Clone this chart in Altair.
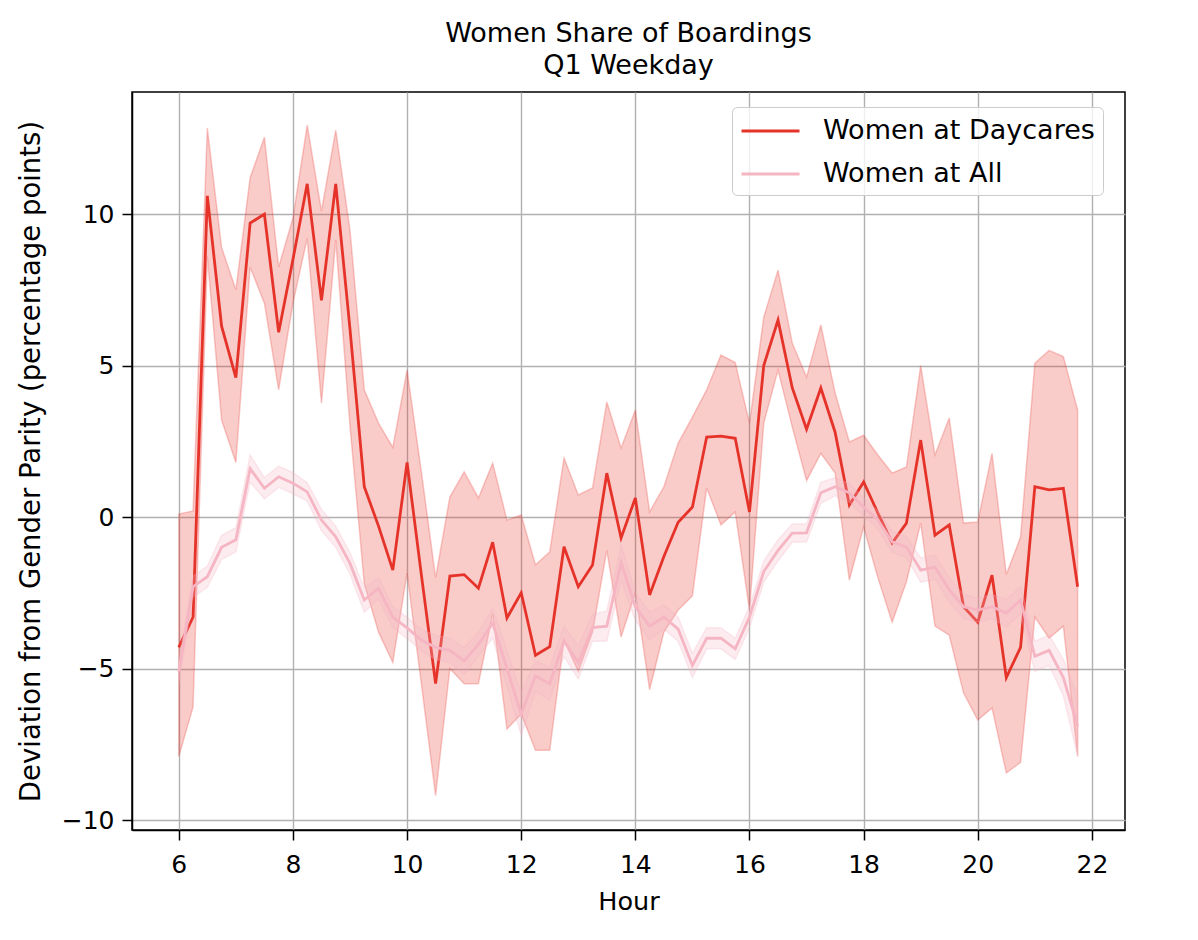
import altair as alt
import pandas as pd

hours = [6.0, 6.25, 6.5, 6.75, 7.0, 7.25, 7.5, 7.75, 8.0, 8.25, 8.5, 8.75,
         9.0, 9.25, 9.5, 9.75, 10.0, 10.25, 10.5, 10.75, 11.0, 11.25, 11.5, 11.75,
         12.0, 12.25, 12.5, 12.75, 13.0, 13.25, 13.5, 13.75, 14.0, 14.25, 14.5, 14.75,
         15.0, 15.25, 15.5, 15.75, 16.0, 16.25, 16.5, 16.75, 17.0, 17.25, 17.5, 17.75,
         18.0, 18.25, 18.5, 18.75, 19.0, 19.25, 19.5, 19.75, 20.0, 20.25, 20.5, 20.75,
         21.0, 21.25, 21.5, 21.75]

daycare_mean = [-4.3, -3.3, 10.6, 6.3, 4.6, 9.7, 10.0, 6.1, 8.5, 11.0, 7.15, 11.0,
                6.2, 1.0, -0.3, -1.75, 1.8, -1.9, -5.5, -1.95, -1.9, -2.35, -0.83, -3.33,
                -2.5, -4.56, -4.28, -0.98, -2.3, -1.58, 1.45, -0.69, 0.63, -2.57, -1.3, -0.17,
                0.33, 2.64, 2.67, 2.6, 0.17, 5.0, 6.5, 4.26, 2.9, 4.26, 2.8, 0.4,
                1.16, 0.13, -0.86, -0.2, 2.54, -0.6, -0.26, -2.96, -3.47, -1.92, -5.3, -4.3,
                1.0, 0.9, 0.95, -2.3]

daycare_hi = [0.1, 0.2, 12.84, 8.9, 7.5, 11.2, 12.54, 8.25, 9.87, 12.94, 10.1, 12.77,
              9.47, 4.2, 3.1, 2.3, 4.85, 1.5, -2.0, 0.66, 1.49, 0.63, 1.78, -0.1,
              0.07, -1.58, -1.15, 1.95, 0.73, 0.96, 3.8, 2.28, 3.53, 0.17, 1.0, 2.44,
              3.3, 4.2, 5.35, 5.1, 3.1, 6.6, 8.15, 5.74, 4.62, 6.34, 4.1, 2.48,
              2.7, 2.05, 1.45, 1.65, 5.0, 2.05, 3.27, -0.2, -0.16, 2.1, -1.9, -0.66,
              5.08, 5.5, 5.3, 3.53]

daycare_lo = [-7.9, -6.27, 8.6, 3.2, 1.8, 8.25, 7.06, 4.2, 7.06, 9.2, 3.76, 9.14,
              3.0, -2.2, -3.8, -4.8, -1.85, -5.5, -9.2, -5.0, -5.5, -5.5, -3.2, -7.0,
              -6.5, -7.7, -7.7, -4.06, -5.1, -3.8, -1.1, -3.96, -2.5, -5.7, -3.8, -3.07,
              -2.6, 0.96, -0.26, 0.17, -3.07, 3.1, 4.85, 2.97, 1.2, 2.1, 1.45, -2.08,
              -0.33, -2.0, -3.47, -2.14, -0.2, -3.6, -3.9, -5.8, -6.7, -6.3, -8.45, -8.1,
              -3.3, -4.0, -3.6, -7.9]

all_mean = [-5.1, -2.3, -1.97, -1.0, -0.75, 1.6, 0.95, 1.33, 1.12, 0.83, -0.1, -0.65,
            -1.53, -2.74, -2.35, -3.3, -3.66, -4.06, -4.3, -4.4, -4.75, -4.2, -3.5, -5.0,
            -6.5, -5.25, -5.5, -4.1, -4.8, -3.65, -3.6, -1.5, -2.96, -3.6, -3.3, -3.7,
            -4.9, -4.0, -4.0, -4.35, -3.3, -1.8, -1.1, -0.53, -0.52, 0.8, 1.0, 0.8,
            0.33, -0.1, -0.82, -0.99, -1.75, -1.65, -2.4, -2.96, -3.07, -2.96, -3.17, -2.74,
            -4.6, -4.4, -5.3, -6.9]

all_err = [0.4, 0.35, 0.35, 0.4, 0.4, 0.45, 0.35, 0.35, 0.35, 0.3, 0.35, 0.35,
           0.35, 0.4, 0.35, 0.35, 0.35, 0.35, 0.4, 0.4, 0.45, 0.4, 0.5, 0.6,
           0.7, 0.5, 0.55, 0.5, 0.55, 0.45, 0.5, 0.6, 0.45, 0.45, 0.4, 0.4,
           0.4, 0.35, 0.35, 0.35, 0.35, 0.35, 0.35, 0.3, 0.3, 0.35, 0.3, 0.3,
           0.3, 0.3, 0.35, 0.35, 0.4, 0.4, 0.4, 0.4, 0.4, 0.4, 0.45, 0.45,
           0.5, 0.5, 0.6, 1.0]

x_ticks = [6, 8, 10, 12, 14, 16, 18, 20, 22]
y_ticks = [-10, -5, 0, 5, 10]
LABELS = ["Women at Daycares", "Women at All"]
RED = "#e6332a"
PINK = "#f5b5c2"
FONT = "DejaVu Sans"

day = pd.DataFrame({"hour": hours, "mean": daycare_mean, "lo": daycare_lo,
                    "hi": daycare_hi, "series": LABELS[0]})
alls = pd.DataFrame({"hour": hours, "mean": all_mean,
                     "lo": [m - e for m, e in zip(all_mean, all_err)],
                     "hi": [m + e for m, e in zip(all_mean, all_err)],
                     "series": LABELS[1]})

xscale = alt.Scale(domain=[5.18, 22.58], nice=False, zero=False)
yscale = alt.Scale(domain=[-10.33, 14.03], nice=False, zero=False)
x_axis = alt.Axis(values=x_ticks, title="Hour", format="d", labelPadding=12,
                  titlePadding=12)
y_axis = alt.Axis(values=y_ticks, title="Deviation from Gender Parity (percentage points)",
                  format="d", labelPadding=8, titlePadding=16, titleFontSize=27.5)
color = alt.Color("series:N", scale=alt.Scale(domain=LABELS, range=[RED, PINK]),
                  legend=alt.Legend(title=None, orient="none", legendX=600, legendY=15))

def band(df, col, op):
    return alt.Chart(df).mark_area(fill=col, fillOpacity=op, stroke=col,
                                   strokeOpacity=op, strokeWidth=1.5).encode(
        x=alt.X("hour:Q", scale=xscale, axis=x_axis),
        y=alt.Y("lo:Q", scale=yscale, axis=y_axis),
        y2="hi:Q")

def line(df):
    return alt.Chart(df).mark_line(strokeWidth=2.8).encode(
        x=alt.X("hour:Q", scale=xscale, axis=x_axis),
        y=alt.Y("mean:Q", scale=yscale, axis=y_axis),
        color=color)

chart = alt.layer(
    band(day, RED, 0.25), line(day), band(alls, PINK, 0.25), line(alls)
).properties(
    width=993, height=738,
    title=alt.TitleParams(["Women Share of Boardings", "Q1 Weekday"], anchor="middle"),
    autosize=alt.AutoSizeParams(type="none"),
    padding={"left": 124, "top": 84, "right": 40, "bottom": 100},
).configure_view(
    stroke="black", strokeWidth=1.5
).configure_axis(
    domainColor="black", domainWidth=1.5, tickColor="black", tickWidth=1.5, tickSize=10,
    gridColor="#b0b0b0", gridWidth=1.4, labelFont=FONT, labelFontSize=25,
    labelColor="black", titleFont=FONT, titleFontSize=25.5, titleFontWeight="normal",
    titleColor="black"
).configure_title(
    font=FONT, fontSize=27, fontWeight="normal", color="black", lineHeight=32, offset=12
).configure_legend(
    labelFont=FONT, labelFontSize=27, labelColor="black", labelLimit=0,
    symbolType="M-1,0H3", symbolStrokeWidth=3, symbolSize=841, labelOffset=51,
    padding=8, rowPadding=14,
    strokeColor="#cccccc", fillColor="rgba(255,255,255,0.8)", cornerRadius=5
)

chart.save("out.html", embed_options={"renderer": "svg", "actions": False})
